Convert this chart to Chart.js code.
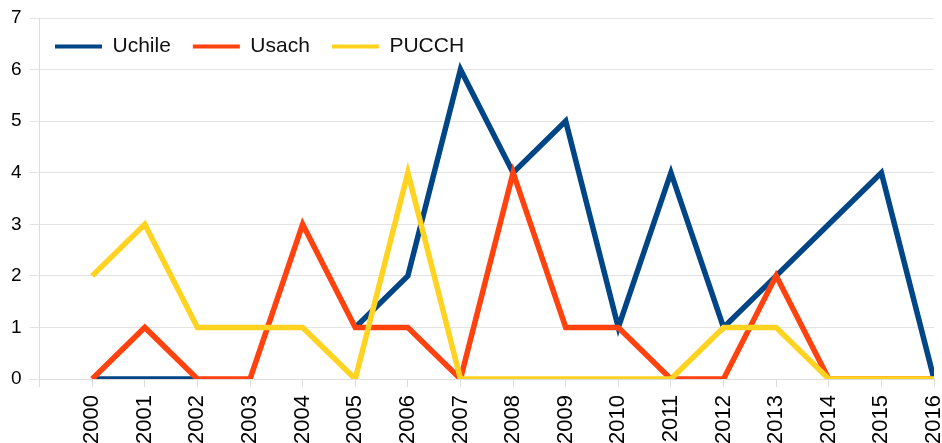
<!DOCTYPE html>
<html>
<head>
<meta charset="utf-8">
<script src="https://cdn.jsdelivr.net/npm/chart.js@4"></script>
<style>
  body { margin: 0; background: #fff; }
</style>
</head>
<body>
<canvas id="chart" width="942" height="443"></canvas>
<script>
const years = [2000, 2001, 2002, 2003, 2004, 2005, 2006, 2007, 2008, 2009, 2010, 2011, 2012, 2013, 2014, 2015, 2016];
const uchile = [0, 0, 0, null, null, 1, 2, 6, 4, 5, 1, 4, 1, 2, 3, 4, 0];
const usach = [0, 1, 0, 0, 3, 1, 1, 0, 4, 1, 1, 0, 0, 2, 0, 0, 0];
const pucch = [2, 3, 1, 1, 1, 0, 4, 0, 0, 0, 0, 0, 1, 1, 0, 0, 0];

const pts = arr => arr.map((v, i) => ({ x: years[i], y: v }));

// legend sits inside the plot, so it takes no layout space
const legendInside = {
  id: 'legendInside',
  beforeLayout(chart) {
    const lg = chart.legend;
    if (lg && !lg._patched) {
      const fit = lg.fit;
      lg.fit = function () { fit.call(this); this.height = 0; };
      lg._patched = true;
    }
  },
  afterLayout(chart) {
    const lg = chart.legend;
    lg.left = 33;
    lg.right = 700;
    lg.top = 14;
    lg.bottom = 60;
  }
};

const line = (label, data, color, order) => ({
  label, data: pts(data), borderColor: color, backgroundColor: color,
  borderWidth: 5.5, pointRadius: 0, tension: 0, order
});

new Chart(document.getElementById('chart').getContext('2d'), {
  type: 'line',
  data: {
    datasets: [
      line('Uchile', uchile, '#004586', 3),
      line('Usach', usach, '#ff420e', 2),
      line('PUCCH', pucch, '#ffd320', 1)
    ]
  },
  options: {
    responsive: false,
    animation: false,
    layout: { padding: { top: 18, left: 3, bottom: 0, right: 0 } },
    plugins: {
      tooltip: { enabled: false },
      legend: {
        position: 'top',
        align: 'start',
        labels: {
          boxWidth: 47,
          boxHeight: 4,
          padding: 22,
          color: '#111',
          font: { family: 'Liberation Sans', size: 21 },
          generateLabels(chart) {
            const items = Chart.defaults.plugins.legend.labels.generateLabels(chart);
            items.forEach(it => { it.lineWidth = 0; it.fillStyle = it.strokeStyle; });
            return items.sort((a, b) => a.datasetIndex - b.datasetIndex);
          }
        }
      }
    },
    scales: {
      x: {
        type: 'linear',
        min: 1999,
        max: 2016,
        afterFit(scale) {
          scale.height = 64;
          scale.paddingLeft = 0;
          scale.paddingRight = 8;
        },
        grid: { drawOnChartArea: false, tickLength: 8, color: '#dcdcdc' },
        border: { color: '#dcdcdc' },
        ticks: {
          stepSize: 1,
          autoSkip: false,
          minRotation: 90,
          maxRotation: 90,
          padding: 8,
          color: '#000',
          font: { family: 'Liberation Sans', size: 22, lineHeight: 1 },
          callback: v => (v === 1999 ? '' : String(v))
        }
      },
      y: {
        min: 0,
        max: 7,
        afterFit(scale) {
          scale.paddingTop = 0;
          scale.paddingBottom = 0;
        },
        grid: { color: '#e3e3e3', tickLength: 10 },
        border: { color: '#dcdcdc' },
        ticks: {
          stepSize: 1,
          padding: 8,
          color: '#000',
          font: { family: 'Liberation Sans', size: 19 }
        }
      }
    }
  },
  plugins: [legendInside]
});
</script>
</body>
</html>
